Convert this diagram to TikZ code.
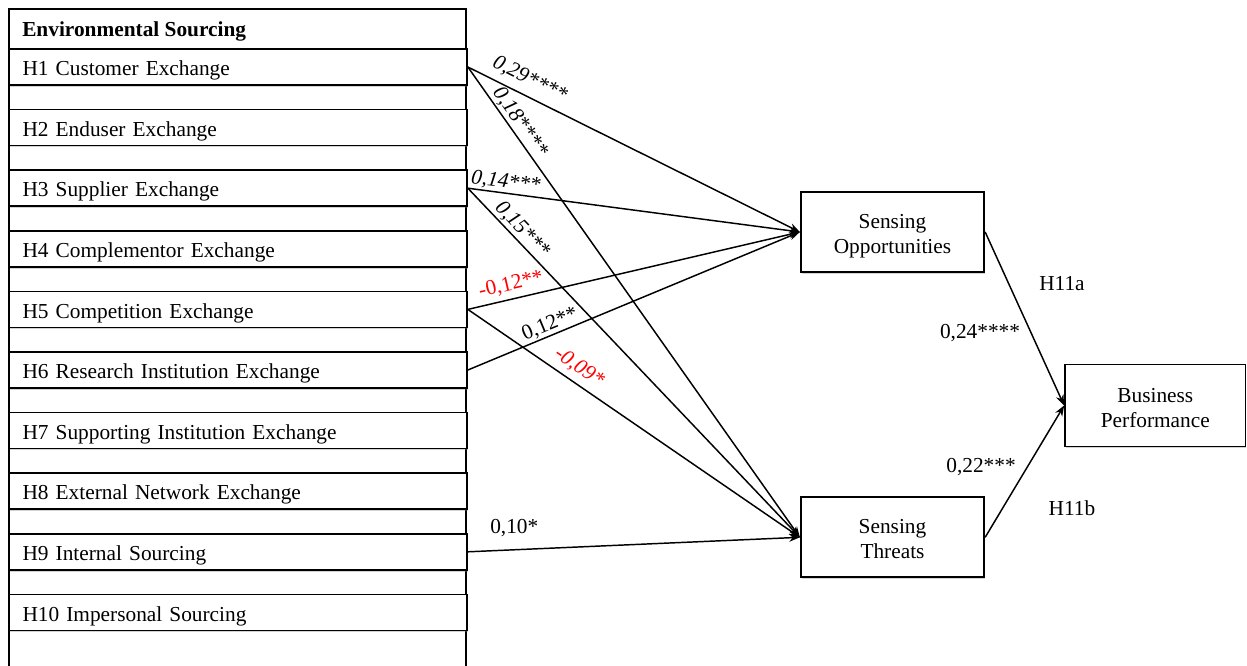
\documentclass[tikz,border=0pt]{standalone}
\usepackage{fontspec}
\setmainfont{Liberation Serif}
\usetikzlibrary{arrows.meta,shadows}
\begin{document}
\begin{tikzpicture}[x=0.75pt,y=-0.75pt,
  every node/.style={font=\fontsize{16}{18.5}\selectfont},
  outerbox/.style={draw=black,line width=1.3pt,fill=white,minimum width=343pt,minimum height=503pt,inner sep=0pt},
  hbox/.style={draw=black,line width=1.3pt,fill=white,minimum width=343.7pt,minimum height=27pt,
    text width=323pt,align=left,inner xsep=10pt,inner ysep=0pt,text height=13pt,text depth=0pt,
    drop shadow={shadow xshift=0.6pt,shadow yshift=-1.3pt,opacity=0.35,fill=gray}},
  cbox/.style={draw=black,line width=1.3pt,fill=white,minimum width=137.7pt,minimum height=60pt,
    align=center,inner sep=0pt,text height=32pt,text depth=0pt,
    drop shadow={shadow xshift=0.6pt,shadow yshift=-1.3pt,opacity=0.35,fill=gray}},
  arr/.style={line width=1.1pt,-{Stealth[length=8pt,width=6pt]}},
  lab/.style={sloped,above,inner sep=1pt,font=\fontsize{16}{18.5}\selectfont\itshape},
  labup/.style={sloped,above,inner sep=1pt},
]
\useasboundingbox (0,0) rectangle (1247,665);
\begin{scope}
\clip (0,0) rectangle (1247,665);
\node[outerbox] (outer) at (237.4,344.4) {};
\end{scope}
\node[anchor=west,inner sep=0pt,font=\fontsize{16}{18.5}\selectfont\bfseries] (head) at (22,31) {Environmental Sourcing};

\node[hbox] (h1) at (237.85,67) {H1 Customer Exchange};
\node[hbox] (h2) at (237.85,127.6) {H2 Enduser Exchange};
\node[hbox] (h3) at (237.85,188.2) {H3 Supplier Exchange};
\node[hbox] (h4) at (237.85,248.8) {H4 Complementor Exchange};
\node[hbox] (h5) at (237.85,309.4) {H5 Competition Exchange};
\node[hbox] (h6) at (237.85,370) {H6 Research Institution Exchange};
\node[hbox] (h7) at (237.85,430.6) {H7 Supporting Institution Exchange};
\node[hbox] (h8) at (237.85,491.2) {H8 External Network Exchange};
\node[hbox] (h9) at (237.85,551.8) {H9 Internal Sourcing};
\node[hbox] (h10) at (237.85,612.4) {H10 Impersonal Sourcing};

\node[cbox] (so) at (892.5,232) {Sensing\\Opportunities};
\node[cbox] (st) at (892.5,537.3) {Sensing\\Threats};
\node[cbox,minimum width=135.4pt,minimum height=61.5pt,text height=32.5pt] (bp) at (1155.3,405.5) {Business\\Performance};

\draw[arr] (h1.east) -- (so.west) node[lab,pos=0.165,above=4pt] {0,29****};
\draw[arr] (h1.east) -- (st.west) node[lab,pos=0.13] {0,18****};
\draw[arr] (h3.east) -- (so.west) node[lab,pos=0.11] {0,14***};
\draw[arr] (h3.east) -- (st.west) node[lab,pos=0.14] {0,15***};
\draw[arr] (h5.east) -- (so.west) node[labup,pos=0.14,text=red,above=2.5pt] {-0,12**};
\draw[arr] (h6.east) -- (so.west) node[labup,pos=0.26] {0,12**};
\draw[arr] (h5.east) -- (st.west) node[lab,pos=0.31,text=red,above=3pt] {-0,09*};
\draw[arr] (h9.east) -- (st.west) node[pos=0.14,above=5.5pt] {0,10*};

\draw[arr] (so.east) -- (bp.west);
\draw[arr] (st.east) -- (bp.west);
\node (h11a) at (1062,284) {H11a};
\node (c24) at (980,333) {0,24****};
\node (c22) at (981,467) {0,22***};
\node (h11b) at (1072,508) {H11b};
\end{tikzpicture}
\end{document}
